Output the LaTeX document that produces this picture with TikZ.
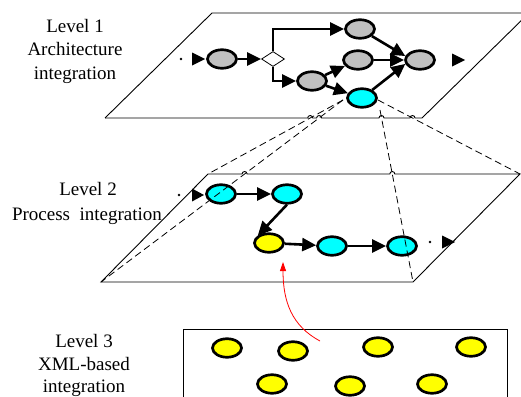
\documentclass[tikz,border=0pt]{standalone}
\usepackage{fontspec}
\setmainfont{Liberation Serif}
\usetikzlibrary{arrows.meta,shapes.geometric}
\definecolor{grayfill}{RGB}{192,192,192}
\definecolor{cyanfill}{RGB}{0,255,255}
\definecolor{yellowfill}{RGB}{255,255,0}
\begin{document}
\begin{tikzpicture}[x=1pt,y=-1pt,
  nd/.style={ellipse,draw,line width=2.7pt,minimum width=29pt,minimum height=18.5pt,inner sep=0pt},
  gnd/.style={nd,fill=grayfill},
  cnd/.style={nd,fill=cyanfill},
  ynd/.style={nd,fill=yellowfill},
  flow/.style={line width=2.6pt,-{Triangle[length=14pt,width=13pt]}},
  plane/.style={line width=0.9pt},
  proj/.style={line width=0.8pt,dash pattern=on 7pt off 4pt},
  lbl/.style={font=\fontsize{19}{23}\selectfont,anchor=base,inner sep=0pt},
  dotmark/.style={fill=black},
  redarrow/.style={red,line width=0.8pt,-{Triangle[length=9pt,width=6pt]}}
]
\useasboundingbox (0,0) rectangle (521,396);
\clip (0,0) rectangle (521,396);

% ---------- labels ----------
\node[lbl] (l1a) at (75,33) {Level 1};
\node[lbl] (l1b) at (75,56) {Architecture};
\node[lbl] (l1c) at (75,79) {integration};
\node[lbl] (l2a) at (88,195) {Level 2};
\node[lbl] (l2b) at (87,220) {Process~~integration};
\node[lbl] (l3a) at (84,347) {Level 3};
\node[lbl] (l3b) at (84,370) {XML-based};
\node[lbl] (l3c) at (84,392) {integration};

% ---------- planes ----------
\draw[plane] (105,118) -- (212,13) -- (529,13) -- (422,118);
\draw[plane] (105,118) -- (307.7,118) arc (180:360:2.5) -- (316.6,118) arc (180:360:2.5)
  -- (379,118) arc (180:360:2.5) -- (410,118) arc (180:360:2.5) -- (422,118);
\draw[plane] (208,174) -- (242.1,174) arc (180:360:2.5) -- (389.8,174) arc (180:360:2.5)
  -- (520,174) -- (413,282) -- (101,282) -- cycle;
\draw[plane] (183,329) rectangle (507,402);

% ---------- level 1 ----------
\node[gnd] (a1) at (222,59) {};
\node[diamond,draw,fill=white,line width=0.8pt,minimum width=23pt,minimum height=15pt,inner sep=0pt,aspect=1.5] (dia) at (273,59) {};
\node[gnd] (a2) at (360,29) {};
\node[gnd] (a3) at (358,60) {};
\node[gnd] (a4) at (312,81) {};
\node[cnd] (a5) at (362,98) {};
\node[gnd] (a6) at (420,60) {};
\fill[dotmark] (181,59) circle (1.3);
\fill[dotmark] (192,52.5) -- (205,59) -- (192,65.5) -- cycle;
\fill[dotmark] (452,53.5) -- (465,60) -- (452,66.5) -- cycle;
\draw[flow] (a1) -- (dia);
\draw[flow] (dia.north) |- (a2);
\draw[flow] (dia.south) |- (a4);
\draw[flow] (a4) -- (a3);
\draw[flow] (a4) -- (a5);
\draw[flow] (a2) -- (a6.165);
\draw[flow] (a3) -- (a6);
\draw[flow] (a5) -- (a6.195);

% ---------- level 2 ----------
\node[cnd] (b1) at (221,194) {};
\node[cnd] (b2) at (287,194) {};
\node[ynd] (b3) at (269,243) {};
\node[cnd] (b4) at (332,246) {};
\node[cnd] (b5) at (402,246) {};
\fill[dotmark] (179,195) circle (1.3);
\fill[dotmark] (192,188.5) -- (204,195) -- (192,201.5) -- cycle;
\fill[dotmark] (430,242) circle (1.3);
\fill[dotmark] (442,235.5) -- (455,242) -- (442,248.5) -- cycle;
\draw[flow] (b1) -- (b2);
\draw[flow] (b2.south) -- (b3.north west);
\draw[flow] (b3) -- (b4);
\draw[flow] (b4) -- (b5);

% ---------- projection lines ----------
\coordinate (s1) at (343,100);
\coordinate (s2) at (378,100);
\coordinate (s3) at (380,110);
\coordinate (c2tl) at (208,174);
\coordinate (c2tr) at (520,174);
\coordinate (c2br) at (413,282);
\coordinate (c2bl) at (101,282);
\draw[proj] (s1) -- (c2tl);
\draw[proj] (s1) -- (c2bl);
\draw[proj] (s2) -- (c2tr);
\draw[proj] (s3) -- (c2br);

% ---------- level 3 ----------
\node[ynd] (x1) at (227,348) {};
\node[ynd] (x2) at (293,351) {};
\node[ynd] (x3) at (378,347) {};
\node[ynd] (x4) at (471,347) {};
\node[ynd] (x5) at (272,384) {};
\node[ynd] (x6) at (350,386) {};
\node[ynd] (x7) at (432,384) {};

% ---------- red arrow ----------
\coordinate (rs) at (320,341);
\coordinate (rt) at (283,262);
\draw[redarrow] (rs) .. controls (292,326) and (283,302) .. (rt);
\end{tikzpicture}
\end{document}
